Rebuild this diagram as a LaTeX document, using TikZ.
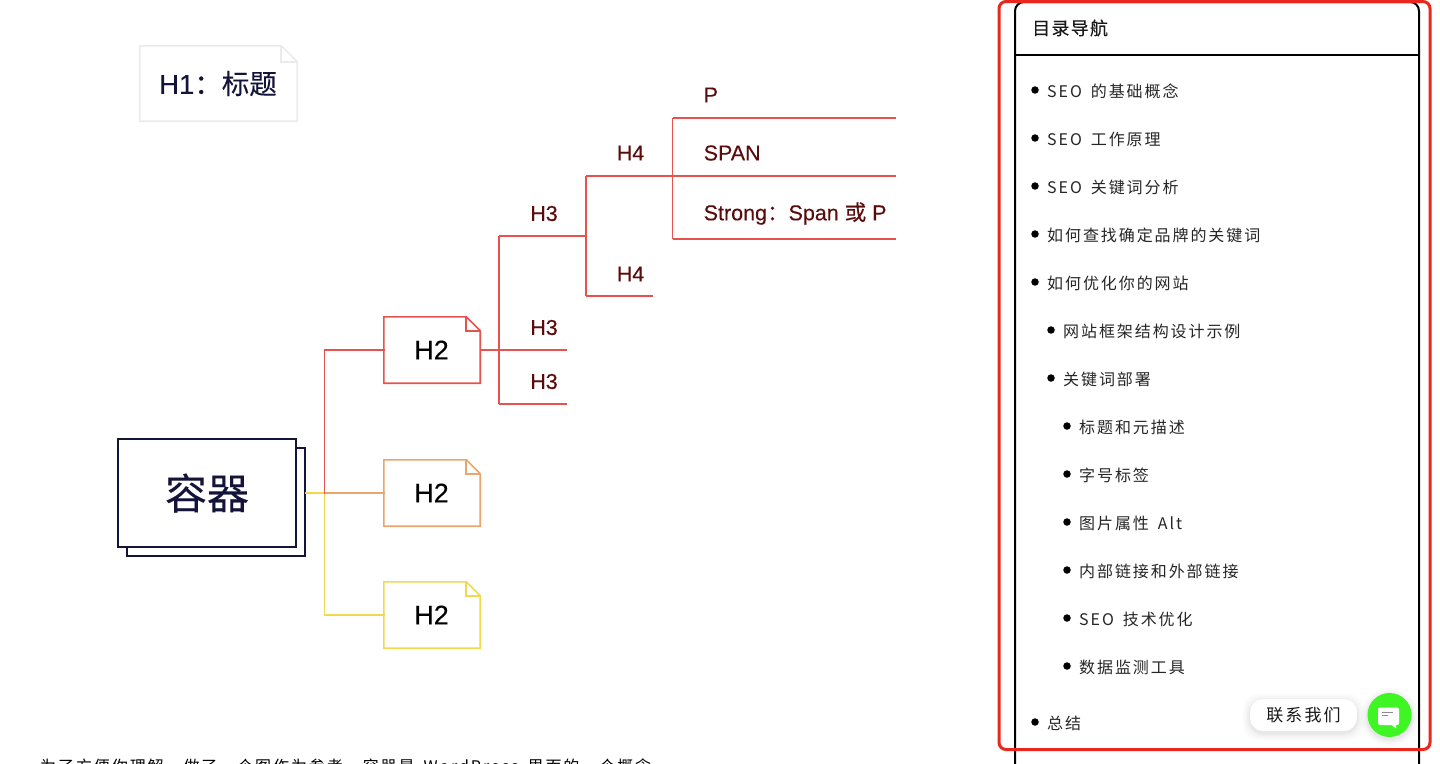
\documentclass[tikz,border=0pt]{standalone}
\usepackage{fontspec}
\setmainfont[FakeBold=0.15]{Liberation Sans}
\newfontfamily\cjk[FakeBold=0.15]{Noto Sans CJK SC}
\newfontfamily\toc[LetterSpace=12]{Noto Sans CJK SC}
\newfontfamily\tocb[LetterSpace=7,FakeBold=0.15]{Noto Sans CJK SC}
\newcommand{\wgap}{\hspace{9pt}}
\definecolor{navy}{HTML}{14143A}
\definecolor{redl}{HTML}{E8524E}
\definecolor{orangel}{HTML}{E9A56C}
\definecolor{yell}{HTML}{F0D94E}
\definecolor{maroon}{HTML}{5A0C0C}
\definecolor{frame}{HTML}{E8281C}
\definecolor{greenb}{HTML}{3FF524}
\definecolor{palegray}{HTML}{EBEBEB}
\tikzset{
  px/.style={font=\fontsize{#1}{#1}\selectfont},
  docbox/.style={inner sep=0pt,minimum width=96pt,minimum height=66pt,px=27},
  wire/.style={line width=1.6pt,line cap=rect},
  lab/.style={inner sep=0pt,text=maroon,px=21.5},
  labl/.style={lab,anchor=west},
  item/.style={inner sep=0pt,anchor=west,text=black!85,font=\toc\fontsize{16}{16}\selectfont},
  dot/.style={circle,fill=black,inner sep=0pt,minimum size=7.5pt},
}
% name, colour, fold size
\newcommand{\docoutline}[3]{%
  \draw[#2,line width=1.6pt,line join=miter]
    (#1.north west) -- ([xshift=-#3]#1.north east) -- ([yshift=-#3]#1.north east)
    -- (#1.south east) -- (#1.south west) -- cycle;
  \draw[#2,line width=1.6pt]
    ([xshift=-#3]#1.north east) -- ([xshift=-#3,yshift=-#3]#1.north east) -- ([yshift=-#3]#1.north east);
}
\begin{document}
\begin{tikzpicture}[x=1pt,y=-1pt]
\useasboundingbox (0,0) rectangle (1440,763);
\clip (0,0) rectangle (1440,763);
\fill[white] (0,0) rectangle (1440,763);

% H1
\node[inner sep=0pt,minimum width=157pt,minimum height=75pt,text=navy,px=27.5] (h1) at (218.5,83.5) {\raisebox{-1pt}{\hspace{-1pt}H1\cjk：标题}};
\docoutline{h1}{palegray}{16pt}

% container
\node[draw=navy,fill=white,line width=1.4pt,inner sep=0pt,minimum width=178pt,minimum height=108pt] (back) at (216,502) {};
\node[draw=navy,fill=white,line width=1.4pt,inner sep=0pt,minimum width=178pt,minimum height=108pt,text=navy,font=\cjk\fontsize{42}{42}\selectfont] (box) at (207,493) {容器};

% H2 boxes
\node[docbox] (h2a) at (432,350) {\hspace{-1pt}H2};
\node[docbox] (h2b) at (432,493) {\hspace{-1pt}H2};
\node[docbox] (h2c) at (432,615) {\hspace{-1pt}H2};
\docoutline{h2a}{redl}{14pt}
\docoutline{h2b}{orangel}{14pt}
\docoutline{h2c}{yell}{14pt}

% level-one connectors
\coordinate (t0) at (324.5,493);
\draw[wire,yell] (back.east |- t0) -- (t0);
\draw[wire,yell] (t0) |- (h2c.west);
\draw[wire,orangel] (t0) -- (h2b.west);
\draw[wire,redl] (t0) |- (h2a.west);

% red branches
\coordinate (j3) at (499,350);
\coordinate (e3b) at (567,350);
\coordinate (j3a) at (499,236);
\coordinate (j3c) at (499,404);
\coordinate (e3c) at (567,404);
\coordinate (j4) at (586,236);
\coordinate (j4a) at (586,176);
\coordinate (j4b) at (586,296);
\coordinate (e4b) at (653,296);
\coordinate (j5) at (672.5,176);
\coordinate (j5a) at (672.5,118);
\coordinate (j5c) at (672.5,239);
\coordinate (e5a) at (896,118);
\coordinate (e5b) at (896,176);
\coordinate (e5c) at (896,239);
\begin{scope}[wire,redl,line cap=butt]
\draw (h2a.east) -- (e3b);
\draw (j3a) -- (j3c);
\draw (j3c) -- (e3c);
\draw (j3a) -- (j4);
\draw (j4a) -- (j4b);
\draw (j4b) -- (e4b);
\draw (j4a) -- (e5b);
\draw (j5a) -- (j5c);
\draw (j5a) -- (e5a);
\draw (j5c) -- (e5c);
\end{scope}

% labels
\node[lab] (l3a) at (544,213.5) {H3};
\node[lab] (l3b) at (544,327.5) {H3};
\node[lab] (l3c) at (544,381.5) {H3};
\node[lab] (l4a) at (630.5,153) {H4};
\node[lab] (l4b) at (630.5,274) {H4};
\node[labl] (lp) at (703.5,95) {P};
\node[labl] (ls) at (703.5,153) {SPAN};
\node[labl] (lt) at (703.5,213.5) {Strong\cjk：\rmfamily Span {\cjk 或} P};

% bottom text
\node[item,text=black] (para) at (40,766.5) {为了方便你理解，做了一个图作为参考，容器是\wgap WordPress\wgap 里面的一个概念};

% TOC frame
\draw[black,line width=2pt,rounded corners=9pt] (1015,775) -- (1015,2) -- (1419,2) -- (1419,775);
\coordinate (hl) at (1015,54.5);
\coordinate (hr) at (1419,54.5);
\draw[black,line width=2pt] (hl) -- (hr);
\node[inner sep=0pt,anchor=west,text=black!90,font=\tocb\fontsize{18}{18}\selectfont] (title) at (1032,28) {目录导航};

\node[dot] (d1) at (1035,90) {};   \node[item] (i1) at (1047,91) {SEO\wgap 的基础概念};
\node[dot] (d2) at (1035,138) {};  \node[item] (i2) at (1047,139) {SEO\wgap 工作原理};
\node[dot] (d3) at (1035,186) {};  \node[item] (i3) at (1047,187) {SEO\wgap 关键词分析};
\node[dot] (d4) at (1035,234) {};  \node[item] (i4) at (1047,235) {如何查找确定品牌的关键词};
\node[dot] (d5) at (1035,282) {};  \node[item] (i5) at (1047,283) {如何优化你的网站};
\node[dot] (d6) at (1051,330) {};  \node[item] (i6) at (1063,331) {网站框架结构设计示例};
\node[dot] (d7) at (1051,378) {};  \node[item] (i7) at (1063,379) {关键词部署};
\node[dot] (d8) at (1067,426) {};  \node[item] (i8) at (1079,427) {标题和元描述};
\node[dot] (d9) at (1067,474) {};  \node[item] (i9) at (1079,475) {字号标签};
\node[dot] (d10) at (1067,522) {}; \node[item] (i10) at (1079,523) {图片属性\wgap Alt};
\node[dot] (d11) at (1067,570) {}; \node[item] (i11) at (1079,571) {内部链接和外部链接};
\node[dot] (d12) at (1067,618) {}; \node[item] (i12) at (1079,619) {SEO\wgap 技术优化};
\node[dot] (d13) at (1067,666) {}; \node[item] (i13) at (1079,667) {数据监测工具};
\node[dot] (d14) at (1035,722) {}; \node[item] (i14) at (1047,723) {总结};

% red highlight frame
\draw[frame,line width=3pt,rounded corners=7pt] (999,1.5) rectangle (1430,749.5);

% contact pill
\foreach \g/\o in {7/0.015,5/0.02,3/0.025,1.5/0.03}{
  \fill[black,opacity=\o,rounded corners=16pt] (1250-\g,699-\g+2) rectangle (1357+\g,731+\g+2);
  \fill[black,opacity=\o] (1389.5,717) circle (22+\g);
}
\node[fill=white,rounded corners=13pt,minimum width=107pt,minimum height=32pt,inner sep=0pt,text=black!90,font=\toc\fontsize{17}{17}\selectfont] (pill) at (1303.5,715) {联系我们};
\node[circle,fill=greenb,minimum size=44pt,inner sep=0pt] (chat) at (1389.5,715) {};
\fill[white,rounded corners=2pt] (1378,707.5) rectangle (1399,725);
\fill[white] (1390,724) -- (1396,724) -- (1396,728.5) -- cycle;
\draw[black!45,line width=0.8pt] (1382,712) -- (1393,712);
\draw[black!45,line width=0.8pt] (1382,715.5) -- (1388,715.5);
\end{tikzpicture}
\end{document}
